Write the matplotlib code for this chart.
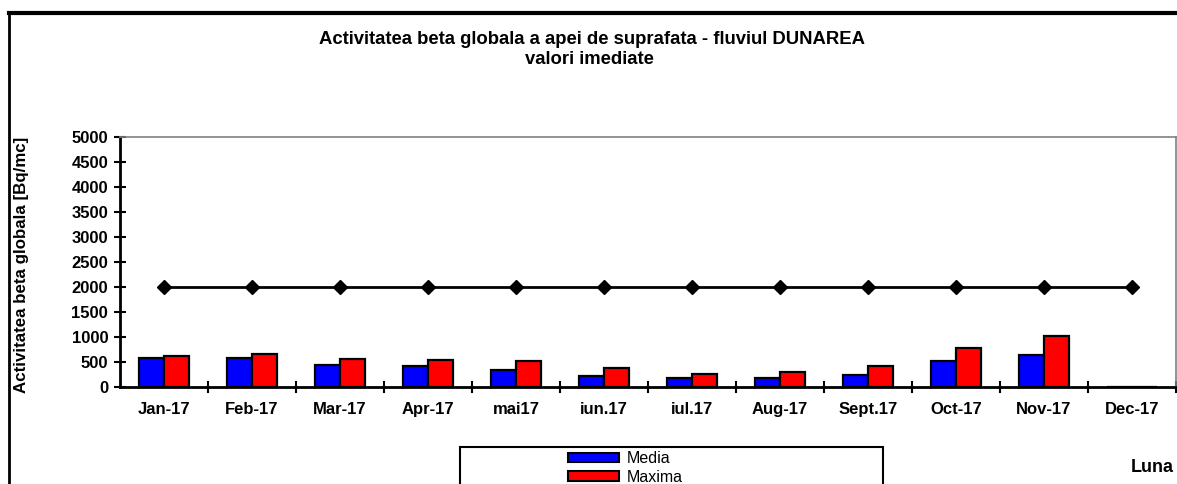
import matplotlib
matplotlib.use("Agg")
import matplotlib.pyplot as plt
from matplotlib.lines import Line2D
from matplotlib.patches import Rectangle, Patch
import numpy as np

plt.rcParams['font.family'] = ['Liberation Sans', 'DejaVu Sans']

months = ["Jan-17", "Feb-17", "Mar-17", "Apr-17", "mai17", "iun.17", "iul.17",
          "Aug-17", "Sept.17", "Oct-17", "Nov-17", "Dec-17"]
media = [570, 570, 435, 416, 342, 209, 175, 175, 242, 517, 638, 0]
maxima = [615, 650, 560, 543, 511, 382, 250, 302, 416, 765, 1006, 0]
limit = [2000] * 12
yticks = list(range(0, 5001, 500))

W, H = 1177, 484
fig = plt.figure(figsize=(W / 100, H / 100), dpi=100)
ax = fig.add_axes([120 / W, 1 - 386.7 / H, (1175.7 - 120) / W, (386.7 - 137) / H])

x = np.arange(len(months))
bw = 0.285
ax.bar(x - bw / 2, media, width=bw, color="#0000FF", edgecolor="black", linewidth=1.6, zorder=3)
ax.bar(x + bw / 2, maxima, width=bw, color="#FF0000", edgecolor="black", linewidth=1.6, zorder=3)
ax.plot(x, limit, color="black", linewidth=2, marker="D", markersize=7, zorder=4, clip_on=False)

ax.set_xlim(-0.5, len(months) - 0.5)
ax.set_ylim(0, 5000)
ax.set_yticks(yticks)
ax.set_yticklabels([str(v) for v in yticks], fontsize=12, fontweight="bold")
ax.set_xticks(x)
ax.set_xticklabels(months, fontsize=12, fontweight="bold")
ax.set_xticks(np.arange(len(months)) + 0.5, minor=True)
ax.tick_params(axis="x", which="major", length=0, pad=11)
ax.tick_params(axis="x", which="minor", direction="inout", length=9, width=1.5)
ax.tick_params(axis="y", which="major", direction="inout", length=9, width=1.5, pad=4)

for s in ["left", "bottom"]:
    ax.spines[s].set_color("black")
    ax.spines[s].set_linewidth(2)
for s in ["top", "right"]:
    ax.spines[s].set_color("#808080")
    ax.spines[s].set_linewidth(1.2)

# figure frame (partially visible)
fig.add_artist(Line2D([9 / W, 1.0], [1 - 12.5 / H, 1 - 12.5 / H], color="black", linewidth=3))
fig.add_artist(Line2D([9 / W, 9 / W], [0, 1 - 12.5 / H], color="black", linewidth=2))

fig.text(592 / W, 1 - 44 / H, "Activitatea beta globala a apei de suprafata - fluviul DUNAREA",
         ha="center", va="baseline", fontsize=13.3, fontweight="bold")
fig.text(589 / W, 1 - 64 / H, "valori imediate", ha="center", va="baseline",
         fontsize=13.3, fontweight="bold")
fig.text(22 / W, 1 - 265 / H, "Activitatea beta globala [Bq/mc]", rotation=90,
         ha="center", va="center", fontsize=12.2, fontweight="bold")
fig.text(1152 / W, 1 - 468 / H, "Luna", ha="center", va="center", fontsize=13, fontweight="bold")

# legend box
fig.add_artist(Rectangle((460 / W, -0.05), (883 - 460) / W, (1 - 447 / H) + 0.05,
                         transform=fig.transFigure, facecolor="white", edgecolor="black",
                         linewidth=1.5))
handles = [Patch(facecolor="#0000FF", edgecolor="black", linewidth=1.5, label="Media"),
           Patch(facecolor="#FF0000", edgecolor="black", linewidth=1.5, label="Maxima")]
fig.legend(handles=handles, loc="upper left", bbox_to_anchor=(568 / W, 1 - 451 / H),
           frameon=False, fontsize=11.5, handlelength=3.2, handleheight=0.55,
           handletextpad=0.5, labelspacing=0.22, borderaxespad=0, borderpad=0)

fig.savefig("out.png", dpi=100)
